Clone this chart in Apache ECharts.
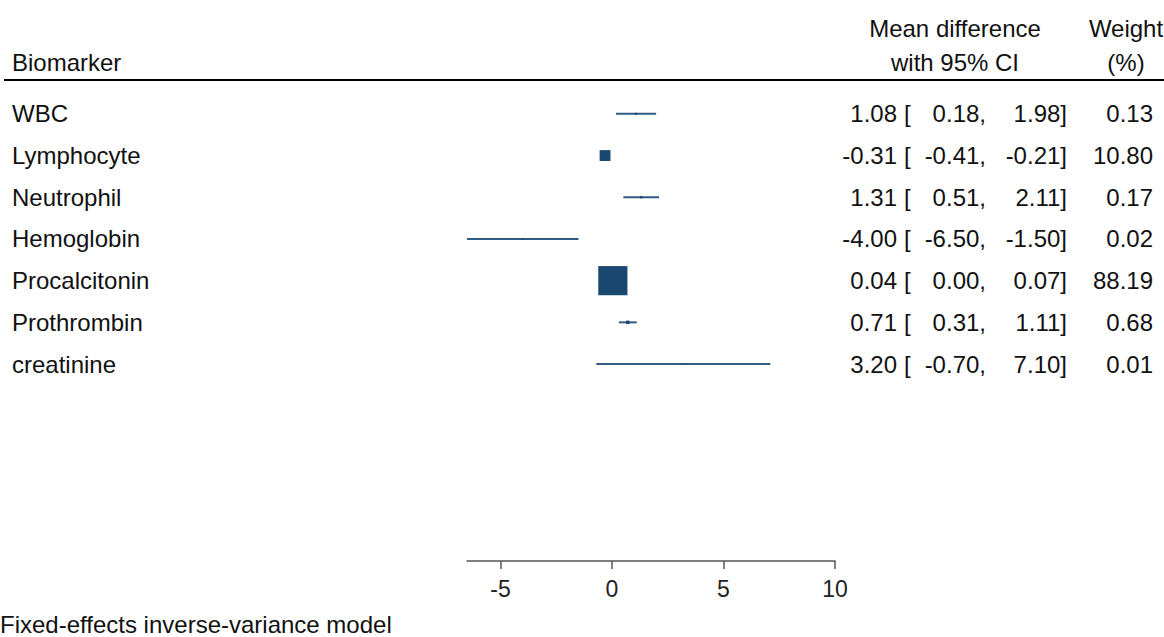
<!DOCTYPE html>
<html><head><meta charset="utf-8">
<script src="https://cdn.jsdelivr.net/npm/echarts@6/dist/echarts.min.js"></script>
<style>html,body{margin:0;padding:0;background:#fff}#c{width:1164px;height:637px}</style>
</head><body><div id="c"></div>
<script>
// ---- data ----
const biomarkers = ['WBC','Lymphocyte','Neutrophil','Hemoglobin','Procalcitonin','Prothrombin','creatinine'];
const meanDiff = [1.08, -0.31, 1.31, -4.00, 0.04, 0.71, 3.20];
const ciLower  = [0.18, -0.41, 0.51, -6.50, 0.00, 0.31, -0.70];
const ciUpper  = [1.98, -0.21, 2.11, -1.50, 0.07, 1.11, 7.10];
const weights  = [0.13, 10.80, 0.17, 0.02, 88.19, 0.68, 0.01];
const xTicks   = [-5, 0, 5, 10];
const xMin = -6.5, xMax = 10;
const headerLeft = 'Biomarker';
const headerMD = ['Mean difference', 'with 95% CI'];
const headerW = ['Weight', '(%)'];
const footnote = 'Fixed-effects inverse-variance model';

// ---- style ----
const FONT = '"Liberation Sans", Arial, sans-serif';
const FS = 24;
const TXT = '#111';
const BOX = '#1a476f';
const LINE = '#2f5b82';

const rows = biomarkers.map((b, i) => [meanDiff[i], ciLower[i], ciUpper[i], i + 0.5, weights[i]]);
const fmt = v => v.toFixed(2);

const chart = echarts.init(document.getElementById('c'), null, {renderer: 'svg'});
const gridTop = 93, gridBottom = 76, rowPx = 41.7;
const yMax = (637 - gridTop - gridBottom) / rowPx;

function txt(x, y, s, align) {
  return {type: 'text', x: x, y: y, style: {text: s, font: FS + 'px ' + FONT, fill: TXT, align: align, verticalAlign: 'middle'}};
}

chart.setOption({
  animation: false,
  backgroundColor: '#fff',
  grid: {left: 467, right: 329, top: gridTop, bottom: gridBottom, containLabel: false},
  xAxis: {
    type: 'value', min: xMin, max: xMax, position: 'bottom',
    splitLine: {show: false},
    axisLine: {show: true, onZero: false, lineStyle: {color: '#555', width: 1.5}},
    axisTick: {show: true, length: 8, customValues: xTicks, lineStyle: {color: '#555', width: 1.5}},
    axisLabel: {customValues: xTicks, fontSize: 23, fontFamily: FONT, color: '#222', margin: 16}
  },
  yAxis: {type: 'value', inverse: true, min: 0, max: yMax, show: false},
  graphic: [
    txt(12, 62, headerLeft, 'left'),
    txt(955, 28, headerMD[0], 'center'),
    txt(955, 62, headerMD[1], 'center'),
    txt(1126, 28, headerW[0], 'center'),
    txt(1126, 62, headerW[1], 'center'),
    {type: 'line', shape: {x1: 4, y1: 80, x2: 1164, y2: 80}, style: {stroke: '#000', lineWidth: 2.2}},
    txt(0, 624, footnote, 'left')
  ],
  series: [
    {
      type: 'custom', clip: false, data: rows,
      encode: {x: [0, 1, 2], y: 3},
      renderItem: function (params, api) {
        const row = api.value(3);
        const p0 = api.coord([api.value(1), row]);
        const p1 = api.coord([api.value(2), row]);
        const pm = api.coord([api.value(0), row]);
        const side = 3.0 * Math.sqrt(api.value(4)) + 1;
        return {type: 'group', children: [
          {type: 'line', shape: {x1: p0[0], y1: p0[1], x2: p1[0], y2: p1[1]}, style: {stroke: LINE, lineWidth: 2}},
          {type: 'rect', shape: {x: pm[0] - side / 2, y: pm[1] - side / 2, width: side, height: side}, style: {fill: BOX}}
        ]};
      }
    },
    {
      type: 'custom', clip: false, data: rows,
      encode: {x: 0, y: 3},
      renderItem: function (params, api) {
        const i = params.dataIndex;
        const y = api.coord([0, api.value(3)])[1];
        return {type: 'group', children: [
          txt(12, y, biomarkers[i], 'left'),
          txt(897, y, fmt(meanDiff[i]), 'right'),
          txt(904, y, '[', 'left'),
          txt(986, y, fmt(ciLower[i]) + ',', 'right'),
          txt(1067, y, fmt(ciUpper[i]) + ']', 'right'),
          txt(1153, y, fmt(weights[i]), 'right')
        ]};
      }
    }
  ]
});
</script></body></html>
